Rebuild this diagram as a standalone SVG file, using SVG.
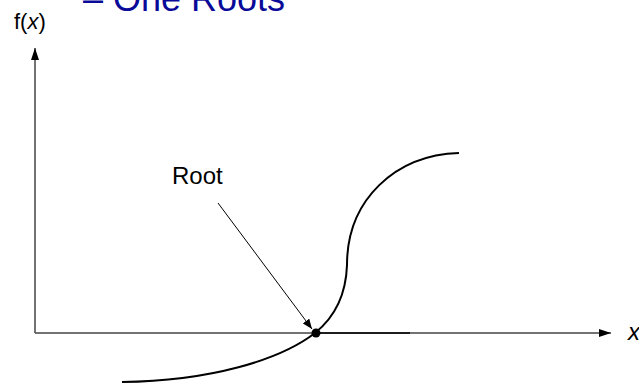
<svg xmlns="http://www.w3.org/2000/svg" width="639" height="386" viewBox="0 0 639 386">
<style>
.lbl{font-family:"Liberation Sans",Arial,sans-serif;fill:#000}
.axis{stroke:#444;stroke-width:1.5;fill:none}
.curve{stroke:#000;stroke-width:2;fill:none}
.ptr{stroke:#000;stroke-width:1;fill:none}
</style>
<defs>
<marker id="ah" viewBox="0 0 12 8" refX="12" refY="4" markerWidth="12" markerHeight="8" markerUnits="userSpaceOnUse" orient="auto">
<path d="M0,0 L12,4 L0,8 Z" fill="#000"/>
</marker>
<marker id="ahs" viewBox="0 0 10 8" refX="10" refY="4" markerWidth="10" markerHeight="8" markerUnits="userSpaceOnUse" orient="auto">
<path d="M0,0 L10,4 L0,8 Z" fill="#000"/>
</marker>
</defs>
<rect width="639" height="386" fill="#fff"/>
<g id="title">
<text class="lbl" x="83" y="11" font-size="36" style="fill:#0a0a99">– One Roots</text>
</g>
<g id="axes">
<line class="axis" x1="35" y1="333" x2="35" y2="48" marker-end="url(#ah)"/>
<line class="axis" x1="35" y1="333" x2="611" y2="333" marker-end="url(#ah)"/>
<line x1="316" y1="333" x2="410" y2="333" stroke="#000" stroke-width="1.5"/>
<text class="lbl" x="14" y="29" font-size="22">f(<tspan font-style="italic">x</tspan>)</text>
<text class="lbl" x="628" y="340" font-size="24" font-style="italic">x</text>
</g>
<g id="function-curve">
<path class="curve" d="M122,382 C210,381 280,360 315,333 C335,317 346,295 347,265 C347,200 395,155 459,153"/>
</g>
<g id="root-node">
<circle cx="316" cy="333" r="4.5" fill="#000"/>
<text class="lbl" x="172" y="184" font-size="24">Root</text>
</g>
<g id="connectors">
<line class="ptr" x1="218" y1="203" x2="312" y2="329" marker-end="url(#ahs)"/>
</g>
</svg>
